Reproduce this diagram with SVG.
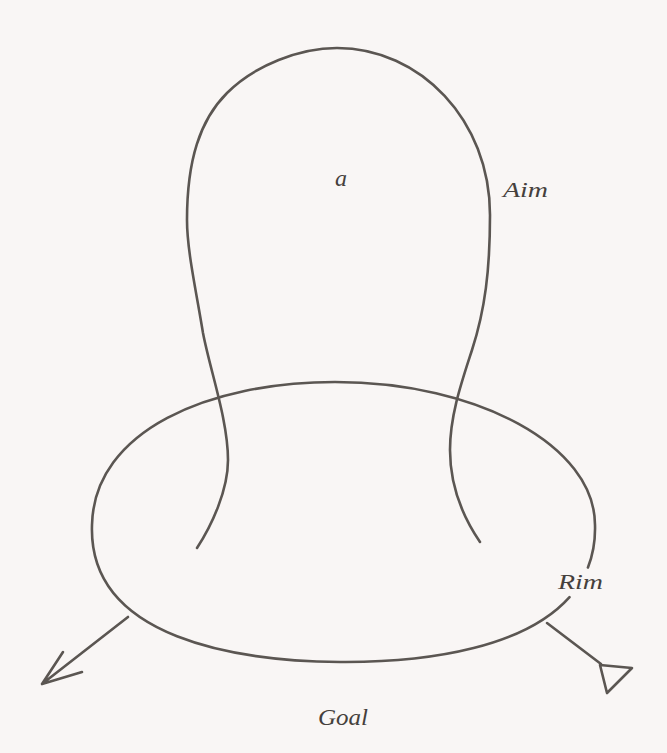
<svg xmlns="http://www.w3.org/2000/svg" width="667" height="753" viewBox="0 0 667 753">
  <style>
    .ln { fill: none; stroke: #5b5652; stroke-width: 2.6; stroke-linecap: round; stroke-linejoin: round; }
    .lbl { font-family: "Liberation Serif", "DejaVu Serif", serif; font-style: italic; fill: #45403c; }
  </style>
  <rect width="667" height="753" fill="#f9f6f5"/>
  <g id="goal-rim">
    <path class="ln" d="M340,662 C240,661 88,640 92,525 C94,430 210,382 335,382 C478,382 595,446 595,525 C595.45,540.75 592.95,554.88 587.94,567.52 M569.53,597.12 C526.15,645.82 433.6,662.72 340,662"/>
  </g>
  <g id="aim-loop">
    <path class="ln" d="M197,548 C212,525 228,490 228,460 C228,420 210,370 203,333 C196,290 187,250 187,220 C187,160 200,120 227,93 C255,65 300,48 337,48 C420,48 490,120 490,215 C490,270 485,310 472,350 C462,381 450,415 450,450 C450,490 465,520 480,542"/>
  </g>
  <g id="connectors">
    <path class="ln" d="M128,617 L42,684 M63,652 L42,684 L82,672"/>
    <path class="ln" d="M547,623 L601,664"/>
    <path class="ln" d="M600,665 L632,668 L607,693 Z"/>
  </g>
  <g id="labels">
    <text class="lbl" x="335" y="186" font-size="24">a</text>
    <text class="lbl" x="503" y="197" font-size="21" textLength="45" lengthAdjust="spacingAndGlyphs">Aim</text>
    <text class="lbl" x="558" y="589" font-size="22" textLength="45" lengthAdjust="spacingAndGlyphs">Rim</text>
    <text class="lbl" x="318" y="725" font-size="23" textLength="50" lengthAdjust="spacingAndGlyphs">Goal</text>
  </g>
</svg>
